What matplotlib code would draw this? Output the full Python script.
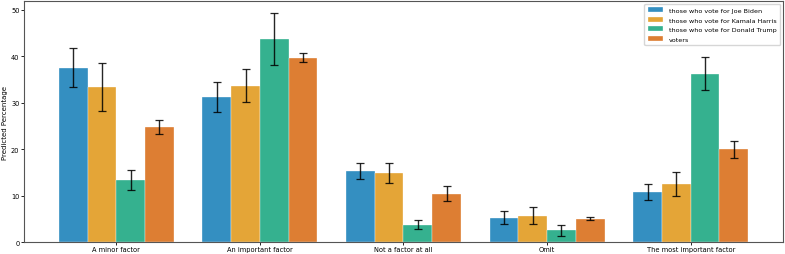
import numpy as np
import matplotlib.pyplot as plt

categories = ["A minor factor", "An important factor", "Not a factor at all", "Omit",
              "The most important factor"]
groups = ["those who vote for Joe Biden", "those who vote for Kamala Harris",
          "those who vote for Donald Trump", "voters"]

biden = [37.5, 31.3, 15.3, 5.2, 10.7]
harris = [33.4, 33.7, 14.9, 5.65, 12.6]
trump = [13.3, 43.8, 3.6, 2.5, 36.2]
voters = [24.7, 39.7, 10.4, 5.0, 20.0]

biden_lo = [33.3, 28.1, 13.5, 3.8, 9.0]
biden_hi = [41.8, 34.5, 17.0, 6.6, 12.4]
harris_lo = [28.2, 30.2, 12.7, 3.8, 10.0]
harris_hi = [38.6, 37.3, 17.0, 7.45, 15.0]
trump_lo = [11.2, 38.2, 2.8, 1.4, 32.7]
trump_hi = [15.5, 49.3, 4.7, 3.65, 39.8]
voters_lo = [23.3, 38.8, 8.8, 4.7, 18.2]
voters_hi = [26.3, 40.7, 12.0, 5.3, 21.8]

series = [(biden, biden_lo, biden_hi), (harris, harris_lo, harris_hi),
          (trump, trump_lo, trump_hi), (voters, voters_lo, voters_hi)]
colors = ["#0173B2", "#DE8F05", "#029E73", "#D55E00"]

fig, ax = plt.subplots(figsize=(7.85, 2.55), dpi=100)
fig.subplots_adjust(left=0.031, right=0.997, bottom=0.047, top=0.992)

x = np.arange(len(categories))
w = 0.2
for i, ((vals, lo, hi), name) in enumerate(zip(series, groups)):
    pos = x + (i - 1.5) * w
    vals = np.array(vals)
    yerr = [vals - np.array(lo), np.array(hi) - vals]
    ax.bar(pos, vals, width=w, color=colors[i], alpha=0.8, label=name,
           edgecolor="white", linewidth=0.3)
    ax.errorbar(pos, vals, yerr=yerr, fmt="none", ecolor="black", elinewidth=1.0,
                capsize=2.6, capthick=0.9, alpha=0.85)

ax.set_xticks(x)
ax.set_xticklabels(categories, fontsize=4.8)
ax.tick_params(axis="y", labelsize=4.8, length=2, width=0.6, pad=1.5)
ax.tick_params(axis="x", length=2, width=0.6, pad=1.2)
ax.set_ylabel("Predicted Percentage", fontsize=5, labelpad=2.5)
ax.set_ylim(0, 51.9)
for s in ax.spines.values():
    s.set_color("#555555")
    s.set_linewidth(0.8)
ax.legend(loc="upper right", fontsize=4.6, handlelength=2.4, handleheight=0.8,
          borderpad=0.6, labelspacing=0.6, borderaxespad=0.4)

plt.savefig("out.png", dpi=100)
